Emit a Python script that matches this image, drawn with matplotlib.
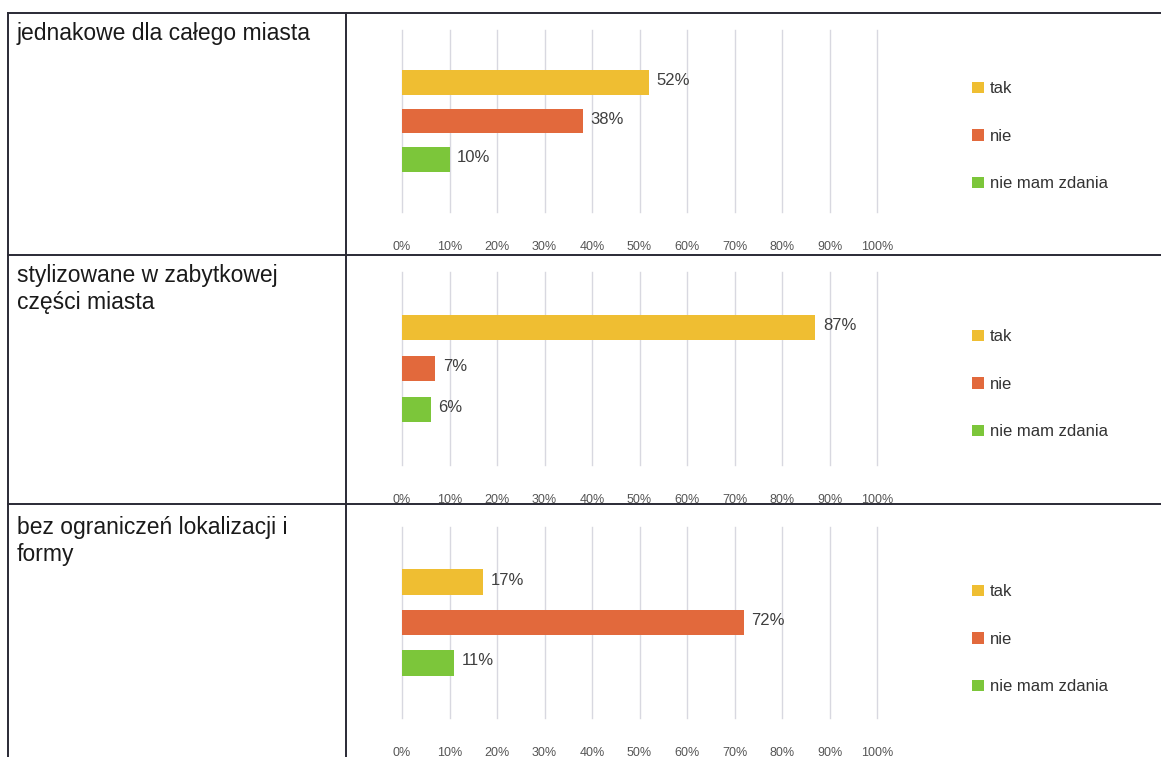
import matplotlib
matplotlib.use("Agg")
import matplotlib.pyplot as plt
from matplotlib.lines import Line2D
from matplotlib.patches import Patch

plt.rcParams['font.family'] = ['Liberation Sans', 'DejaVu Sans']

# data
row_titles = ["jednakowe dla całego miasta",
              "stylizowane w zabytkowej\nczęści miasta",
              "bez ograniczeń lokalizacji i\nformy"]
answers = ["tak", "nie", "nie mam zdania"]
row1 = [52, 38, 10]
row2 = [87, 7, 6]
row3 = [17, 72, 11]
ticks = [0, 10, 20, 30, 40, 50, 60, 70, 80, 90, 100]
tick_labels = ["0%", "10%", "20%", "30%", "40%", "50%", "60%", "70%", "80%", "90%", "100%"]

colors = ["#EFBE32", "#E2693C", "#7CC63A"]

W, H = 1161, 757
fig = plt.figure(figsize=(W / 100, H / 100), dpi=100)

def fx(px):
    return px / W

def fy(py):
    return 1 - py / H

# (gridline top, gridline bottom, title y, legend top) in pixels
rows = [
    (row1, 30, 212, 22, 73),
    (row2, 272, 465, 264, 321),
    (row3, 527, 718, 516, 576),
]

for i, (vals, top, bot, ty, ly) in enumerate(rows):
    ax = fig.add_axes([fx(402), fy(bot), fx(877) - fx(402), (bot - top) / H])
    ypos = list(range(len(answers)))
    bars = ax.barh(ypos, vals, height=0.63, color=colors, zorder=3)
    for b, v in zip(bars, vals):
        ax.text(v + 1.6, b.get_y() + b.get_height() / 2 - 0.05, f"{v}%",
                va="center", ha="left", fontsize=12, color="#3f3f3f")
    ax.set_xlim(0, 100)
    ax.set_ylim(2 + 1.36, -1.36)
    ax.set_xticks(ticks)
    ax.set_xticklabels(tick_labels, fontsize=9, color="#555555")
    ax.tick_params(axis="x", length=0, pad=21)
    ax.set_yticks([])
    ax.grid(axis="x", color="#D8D8E0", linewidth=1, zorder=0)
    for gl in ax.get_xgridlines():
        gl.set_clip_on(False)
    for s in ax.spines.values():
        s.set_visible(False)
    ax.patch.set_alpha(0)

    handles = [Patch(facecolor=c, edgecolor="none") for c in colors]
    fig.legend(handles, answers, loc="upper left",
               bbox_to_anchor=(fx(964), fy(ly)), frameon=False,
               fontsize=12, handlelength=0.7, handleheight=0.7,
               handletextpad=0.35, labelspacing=1.95, borderpad=0,
               labelcolor="#333333")

    fig.text(fx(17), fy(ty), row_titles[i], ha="left", va="top",
             fontsize=16.5, color="#1a1a1a", linespacing=1.22)

# table lines
lc = "#2a2a35"
for y in [13, 255, 504]:
    fig.add_artist(Line2D([fx(8), 1], [fy(y), fy(y)], color=lc, linewidth=1.4))
for x in [8, 346]:
    fig.add_artist(Line2D([fx(x), fx(x)], [fy(13), 0], color=lc, linewidth=1.4))

fig.savefig("out.png", dpi=100, facecolor="white")
